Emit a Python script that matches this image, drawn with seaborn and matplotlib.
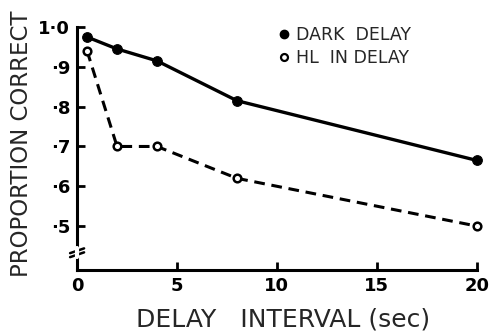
import matplotlib
matplotlib.use("Agg")
import matplotlib.pyplot as plt
import seaborn as sns
import pandas as pd
from matplotlib.lines import Line2D

delay = [0.5, 2, 4, 8, 20]
dark_delay = [0.975, 0.945, 0.915, 0.815, 0.665]
hl_delay = [0.94, 0.70, 0.70, 0.62, 0.50]
series_names = ["DARK  DELAY", "HL  IN DELAY"]
xticks = [0, 5, 10, 15, 20]
yticks = [0.5, 0.6, 0.7, 0.8, 0.9, 1.0]
ytick_labels = ["·5", "·6", "·7", "·8", "·9", "1·0"]

sns.set_style("ticks")
plt.rcParams['font.family'] = ['DejaVu Sans']

df = pd.DataFrame({
    "delay": delay * 2,
    "prop": dark_delay + hl_delay,
    "cond": [series_names[0]] * len(delay) + [series_names[1]] * len(delay),
})

fig = plt.figure(figsize=(4.91, 3.34), dpi=100)
ax = fig.add_axes([0.157, 0.192, 0.814, 0.727])

d1 = df[df.cond == series_names[0]]
d2 = df[df.cond == series_names[1]]
sns.lineplot(data=d1, x="delay", y="prop", ax=ax, color="black", lw=2.4,
             marker="o", markersize=7, markerfacecolor="black",
             markeredgecolor="black", clip_on=False, legend=False)
sns.lineplot(data=d2, x="delay", y="prop", ax=ax, color="black", lw=2.2,
             marker="o", markersize=5.5, markerfacecolor="white",
             markeredgecolor="black", markeredgewidth=1.8,
             dashes=False, clip_on=False, legend=False)
ax.lines[1].set_linestyle((0, (3.5, 2.2)))

ax.set_xlim(0, 20)
ax.set_ylim(0.39, 1.0)
ax.set_xticks(xticks)
ax.set_xticklabels([str(t) for t in xticks], fontsize=13, fontweight="bold")
ax.set_yticks(yticks)
ax.set_yticklabels(ytick_labels, fontsize=13, fontweight="bold")
ax.tick_params(axis="both", direction="in", length=6, width=2, colors="black")
ax.tick_params(axis="x", pad=5)
ax.tick_params(axis="y", pad=5)
for s in ["top", "right"]:
    ax.spines[s].set_visible(False)
for s in ["left", "bottom"]:
    ax.spines[s].set_linewidth(2.2)
    ax.spines[s].set_color("black")

ax.set_xlabel("DELAY   INTERVAL (sec)", fontsize=18)
ax.xaxis.set_label_coords(0.515, -0.155)
ax.set_ylabel("PROPORTION CORRECT", fontsize=16.5)
ax.yaxis.set_label_coords(-0.11, 0.52)

# axis break marks
ax.plot([-0.35, 0.35], [0.432, 0.444], color="black", lw=1.8, clip_on=False)
ax.plot([-0.35, 0.35], [0.422, 0.434], color="black", lw=1.8, clip_on=False)
ax.plot([0, 0], [0.422, 0.444], color="white", lw=3, clip_on=False, zorder=5)

handles = [
    Line2D([], [], ls="none", marker="o", markersize=6, markerfacecolor="black", markeredgecolor="black"),
    Line2D([], [], ls="none", marker="o", markersize=5, markerfacecolor="white", markeredgecolor="black", markeredgewidth=1.6),
]
ax.legend(handles, series_names, loc="upper left", bbox_to_anchor=(0.46, 1.07),
          frameon=False, fontsize=12.5, handletextpad=0.3, handlelength=0.8,
          labelspacing=0.3)

fig.savefig("out.png", dpi=100)
